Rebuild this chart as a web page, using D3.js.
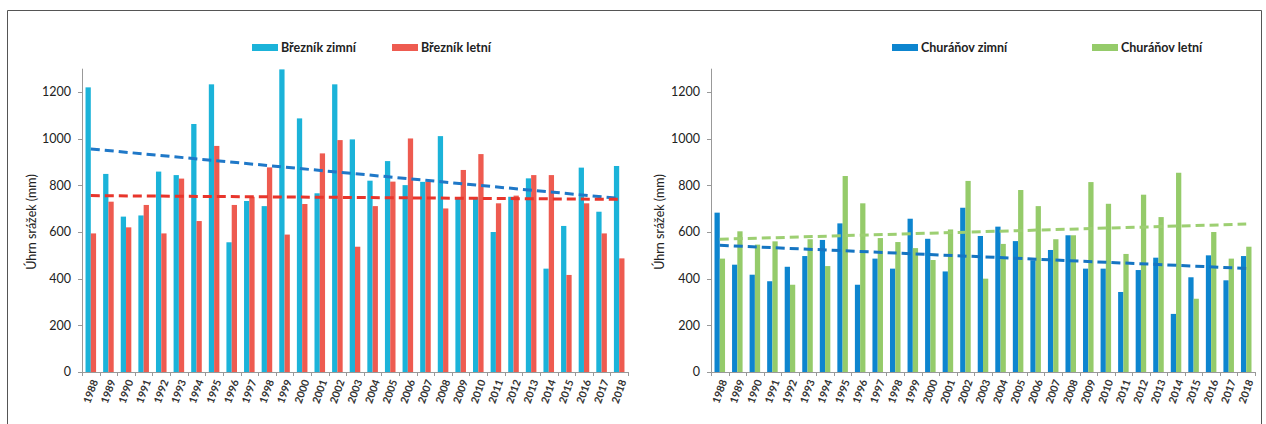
<!DOCTYPE html>
<html>
<head>
<meta charset="utf-8" />
<title>Srážky Březník / Churáňov</title>
<script src="https://d3js.org/d3.v7.min.js"></script>
<style>
  body { margin: 0; background: #fff; }
  svg { display: block; font-family: Lato, "Open Sans", "Liberation Sans", sans-serif; }
</style>
</head>
<body>
<svg width="1266" height="424"></svg>
<script>
// data
var years = d3.range(1988, 2019).map(String);
var yTicks = [0, 200, 400, 600, 800, 1000, 1200];

var breznikZimni = [1220, 849, 666, 671, 859, 844, 1063, 1233, 556, 733,
  711, 1297, 1087, 766, 1233, 997, 820, 904, 801, 815,
  1011, 744, 749, 600, 751, 830, 443, 626, 876, 687, 883];
var breznikLetni = [594, 730, 620, 716, 594, 829, 647, 969, 716, 751,
  877, 589, 720, 937, 994, 537, 711, 816, 1001, 815,
  701, 866, 934, 723, 756, 844, 844, 416, 723, 594, 487];
var churanovZimni = [683, 460, 417, 389, 451, 497, 566, 637, 374, 486,
  443, 657, 571, 431, 704, 583, 623, 561, 479, 523,
  586, 443, 443, 343, 437, 490, 249, 406, 500, 393, 497];
var churanovLetni = [486, 603, 546, 560, 374, 569, 454, 840, 723, 574,
  557, 531, 480, 611, 819, 400, 549, 780, 711, 569,
  586, 814, 721, 506, 760, 664, 854, 314, 600, 486, 537];

// trend lines, value at 1988 and at 2018
var trendBreznikZimni = [956, 744];
var trendBreznikLetni = [756, 740];
var trendChuranovZimni = [543, 444];
var trendChuranovLetni = [569, 634];

var svg = d3.select("svg");

// frame
svg.append("path")
  .attr("d", "M7.5,430V10.5H1261.5V430")
  .attr("fill", "none")
  .attr("stroke", "#555")
  .attr("stroke-width", 1);

function drawChart(opt) {
  var x0 = opt.x0, x1 = opt.x1, yBottom = 372, yTop = 68.7;

  var x = d3.scaleBand().domain(years).range([x0, x1])
    .paddingInner(0.4).paddingOuter(0.2);
  var xs = d3.scaleBand().domain([0, 1]).range([0, x.bandwidth()]);
  var y = d3.scaleLinear().domain([0, 1300]).range([yBottom, yTop]);

  var g = svg.append("g");

  // bars
  opt.series.forEach(function (s, si) {
    g.selectAll(null)
      .data(s.values)
      .enter()
      .append("rect")
      .attr("x", function (d, i) { return x(years[i]) + xs(si); })
      .attr("y", function (d) { return y(d); })
      .attr("width", xs.bandwidth())
      .attr("height", function (d) { return y(0) - y(d); })
      .attr("fill", s.color);
  });

  // axes
  g.append("line")
    .attr("x1", x0 + 0.5).attr("x2", x0 + 0.5)
    .attr("y1", yTop).attr("y2", yBottom)
    .attr("stroke", "#999");
  g.append("line")
    .attr("x1", x0).attr("x2", x1)
    .attr("y1", yBottom + 0.5).attr("y2", yBottom + 0.5)
    .attr("stroke", "#999");

  g.selectAll(null).data(yTicks).enter().append("line")
    .attr("x1", x0 - 4).attr("x2", x0)
    .attr("y1", function (d) { return Math.round(y(d)) + 0.5; })
    .attr("y2", function (d) { return Math.round(y(d)) + 0.5; })
    .attr("stroke", "#999");
  g.selectAll(null).data(yTicks).enter().append("text")
    .attr("x", x0 - 11)
    .attr("y", function (d) { return y(d); })
    .attr("dy", "0.35em")
    .attr("text-anchor", "end")
    .style("font-size", "12.5px")
    .attr("fill", "#222")
    .text(function (d) { return d; });

  g.selectAll(null).data(d3.range(years.length + 1)).enter().append("line")
    .attr("x1", function (i) { return Math.round(x0 + i * x.step()) + 0.5; })
    .attr("x2", function (i) { return Math.round(x0 + i * x.step()) + 0.5; })
    .attr("y1", yBottom).attr("y2", yBottom + 4)
    .attr("stroke", "#999");

  g.selectAll(null).data(years).enter().append("text")
    .attr("transform", function (d) {
      return "translate(" + (x(d) + x.bandwidth() / 2 + 4) + "," + (yBottom + 8) + ") rotate(-70)";
    })
    .attr("text-anchor", "end")
    .attr("dy", "0.35em")
    .style("font-size", "10.5px")
    .style("font-weight", "bold")
    .attr("fill", "#333")
    .text(function (d) { return d; });

  // y axis title
  g.append("text")
    .attr("transform", "translate(" + opt.titleX + ",222) rotate(-90)")
    .attr("text-anchor", "middle")
    .attr("dy", "0.35em")
    .style("font-size", "12.5px")
    .attr("fill", "#222")
    .text("Úhrn srážek (mm)");

  // trend lines
  var xa = x(years[0]) + x.bandwidth() / 2;
  var xb = x(years[years.length - 1]) + x.bandwidth() / 2;
  opt.trends.forEach(function (t) {
    g.append("line")
      .attr("x1", xa).attr("y1", y(t.values[0]))
      .attr("x2", xb).attr("y2", y(t.values[1]))
      .attr("stroke", t.color)
      .attr("stroke-width", 3)
      .attr("stroke-dasharray", "9,5");
  });

  // legend
  opt.series.forEach(function (s, si) {
    var lx = opt.legendX[si];
    g.append("rect")
      .attr("x", lx).attr("y", 44)
      .attr("width", 26).attr("height", 7)
      .attr("fill", s.color);
    g.append("text")
      .attr("x", lx + 29).attr("y", 47.5)
      .attr("dy", "0.35em")
      .style("font-size", "12.5px")
      .style("font-weight", "bold")
      .attr("fill", "#222")
      .text(s.name);
  });
}

drawChart({
  x0: 82, x1: 628, titleX: 32,
  legendX: [252, 392],
  series: [
    { name: "Březník zimní", values: breznikZimni, color: "#1bb3d9" },
    { name: "Březník letní", values: breznikLetni, color: "#ee5b50" }
  ],
  trends: [
    { values: trendBreznikZimni, color: "#1f78c8" },
    { values: trendBreznikLetni, color: "#e8352b" }
  ]
});

drawChart({
  x0: 711, x1: 1255, titleX: 660,
  legendX: [892, 1092],
  series: [
    { name: "Churáňov zimní", values: churanovZimni, color: "#0d85cf" },
    { name: "Churáňov letní", values: churanovLetni, color: "#95cb6a" }
  ],
  trends: [
    { values: trendChuranovZimni, color: "#1575c2" },
    { values: trendChuranovLetni, color: "#9dcf72" }
  ]
});
</script>
</body>
</html>
